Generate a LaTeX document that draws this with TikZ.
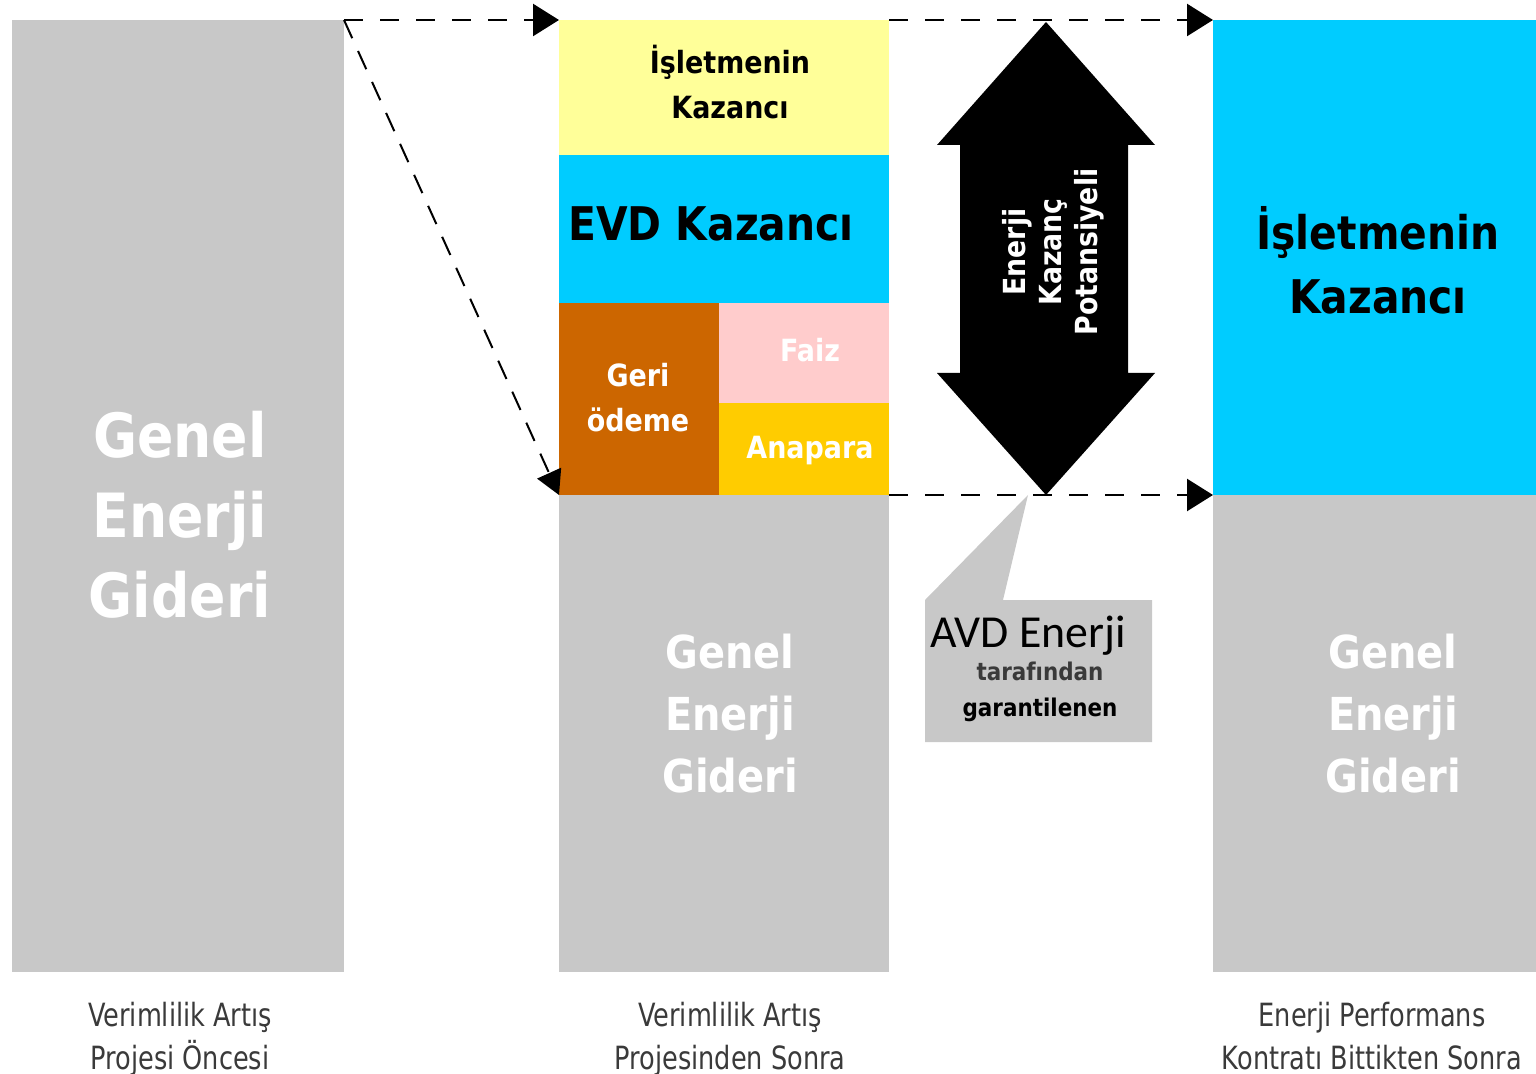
\documentclass[tikz,border=0pt]{standalone}
\usepackage{fontspec}
\setmainfont{DejaVu Sans}[FakeStretch=0.88]
\newfontfamily\calib{Carlito}
\newfontfamily\lblfont{DejaVu Sans}[FakeStretch=0.8]
\usetikzlibrary{arrows.meta,fit}
\definecolor{gbar}{HTML}{C8C8C8}
\definecolor{yel}{HTML}{FFFF99}
\definecolor{cyanb}{HTML}{00CCFF}
\definecolor{brownb}{HTML}{CC6600}
\definecolor{pinkb}{HTML}{FFCCCC}
\definecolor{goldb}{HTML}{FFCC00}
\definecolor{lbltxt}{HTML}{3A3A3A}
\begin{document}
\begin{tikzpicture}[x=0.5pt,y=-0.5pt,
  block/.style={inner sep=0pt, outer sep=0pt, draw=none},
  bigwhite/.style={text=white, align=center, font=\bfseries\fontsize{30.5}{40}\selectfont},
  midwhite/.style={text=white, align=center, font=\bfseries\fontsize{22.7}{31}\selectfont},
  smallbold/.style={align=center, font=\bfseries\fontsize{15.3}{22.5}\selectfont},
  lbl/.style={text=lbltxt, align=center, font=\lblfont\fontsize{16}{21.5}\selectfont},
  dashar/.style={line width=1.25pt, dash pattern=on 9.5pt off 8.5pt, -{Triangle[length=13pt,width=16pt]}},
  dashdiag/.style={line width=1pt, dash pattern=on 10pt off 7pt, -{Triangle[length=12pt,width=13pt]}}]
\useasboundingbox (0,0) rectangle (1536,1074);
% columns
\node[block, fill=gbar, fit={(12,20)(344,972)}] (pre) {};
\node[block, fill=yel, fit={(559,20)(889,155)}] (gain) {};
\node[block, fill=cyanb, fit={(559,155)(889,303)}] (evd) {};
\node[block, fill=brownb, fit={(559,303)(719,495)}] (pay) {};
\node[block, fill=pinkb, fit={(719,303)(889,403)}] (faiz) {};
\node[block, fill=goldb, fit={(719,403)(889,495)}] (ana) {};
\node[block, fill=gbar, fit={(559,495)(889,972)}] (post) {};
\node[block, fill=cyanb, fit={(1213,20)(1536,495)}] (rgain) {};
\node[block, fill=gbar, fit={(1213,495)(1536,972)}] (rpost) {};
% texts in columns
\node[bigwhite] (t1) at (180,515) {Genel\\Enerji\\Gideri};
\node[midwhite] (t2) at (730,714) {Genel\\Enerji\\Gideri};
\node[midwhite] (t3) at (1393,714) {Genel\\Enerji\\Gideri};
\node[smallbold] (t4) at (730,82) {İşletmenin\\Kazancı};
\node[font=\bfseries\fontsize{23.2}{28}\selectfont] (t5) at (711,224) {EVD Kazancı};
\node[smallbold, text=white] (t6) at (638,398) {Geri\\ödeme};
\node[smallbold, text=white] (t7) at (810,350) {Faiz};
\node[smallbold, text=white] (t8) at (810,451) {Anapara};
\node[align=center, font=\bfseries\fontsize{23.2}{32}\selectfont] (t9) at (1378,260) {İşletmenin\\Kazancı};
% callout
\fill[gbar] (1028,495) -- (925,600) -- (925,742) -- (1152,742) -- (1152,600) -- (1003,600) -- cycle;
\node[font=\calib\fontsize{22.9}{26}\selectfont] (avd) at (1028,636) {AVD Enerji};
\node[align=center, font=\bfseries\fontsize{12.2}{18}\selectfont] (tar) at (1040,692) {\textcolor{lbltxt}{tarafından}\\garantilenen};
% double arrow
\fill[black] (1046,22) -- (1155,145) -- (1128,145) -- (1128,373) -- (1155,373) -- (1046,495)
  -- (937,373) -- (960,373) -- (960,145) -- (937,145) -- cycle;
\node[rotate=90, text=white, align=center, font=\bfseries\fontsize{15.2}{18}\selectfont] (pot) at (1053,252) {Enerji\\Kazanç\\Potansiyeli};
% dashed connectors
\draw[dashar] (pre.north east) -- (gain.north west);
\draw[dashdiag] (pre.north east) -- (pay.south west);
\draw[dashar] (gain.north east) -- (rgain.north west);
\draw[dashar] (ana.south east) -- (rgain.south west);
% bottom labels
\node[lbl] (b1) at (180,1039) {\strut Verimlilik Artış\\Projesi Öncesi\strut};
\node[lbl] (b2) at (730,1039) {\strut Verimlilik Artış\\Projesinden Sonra\strut};
\node[lbl] (b3) at (1372,1039) {\strut Enerji Performans\\Kontratı Bittikten Sonra\strut};
\end{tikzpicture}
\end{document}
